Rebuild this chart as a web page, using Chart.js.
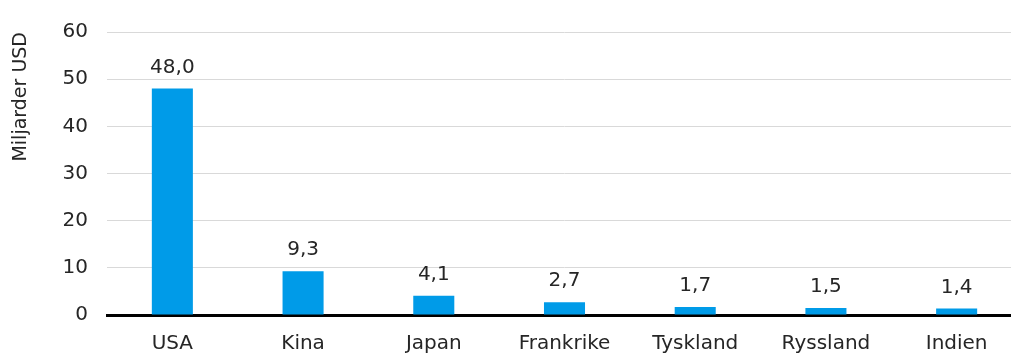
<!DOCTYPE html>
<html>
<head>
<meta charset="utf-8">
<script src="https://cdn.jsdelivr.net/npm/chart.js@4.4.0/dist/chart.umd.min.js"></script>
<style>
  html, body { margin: 0; padding: 0; background: #fff; overflow: hidden; }
  #wrap { width: 1022px; height: 354px; }
</style>
</head>
<body>
<div id="wrap"><canvas id="chart"></canvas></div>
<script>
// Länder och värden (miljarder USD)
const countries = ['USA', 'Kina', 'Japan', 'Frankrike', 'Tyskland', 'Ryssland', 'Indien'];
const values = [48.0, 9.3, 4.1, 2.7, 1.7, 1.5, 1.4];
const yTicks = [0, 10, 20, 30, 40, 50, 60];

const FONT = "'DejaVu Sans', sans-serif";
const TEXT = '#262626';

// Värdeetiketter ovanför staplarna, med decimalkomma
const barLabels = {
  id: 'barLabels',
  afterDatasetsDraw(chart) {
    const { ctx } = chart;
    const meta = chart.getDatasetMeta(0);
    ctx.save();
    ctx.font = '20px ' + FONT;
    ctx.fillStyle = TEXT;
    ctx.textAlign = 'center';
    ctx.textBaseline = 'bottom';
    meta.data.forEach((bar, i) => {
      const txt = values[i].toFixed(1).replace('.', ',');
      ctx.fillText(txt, bar.x, bar.y - 11);
    });
    ctx.restore();
  }
};

new Chart(document.getElementById('chart'), {
  type: 'bar',
  data: {
    labels: countries,
    datasets: [{
      data: values,
      backgroundColor: '#009be8',
      barPercentage: 0.314,
      categoryPercentage: 1
    }]
  },
  options: {
    animation: false,
    responsive: true,
    maintainAspectRatio: false,
    layout: { padding: { top: 32, right: 0, left: 0, bottom: 0 } },
    plugins: {
      legend: { display: false },
      tooltip: { enabled: false }
    },
    scales: {
      x: {
        grid: { display: false, drawTicks: false },
        border: { color: '#000', width: 3 },
        ticks: { color: TEXT, font: { family: FONT, size: 20 }, padding: 17 },
        afterFit(scale) { scale.height = 39; }
      },
      y: {
        min: 0,
        max: 60,
        afterBuildTicks(scale) { scale.ticks = yTicks.map(v => ({ value: v })); },
        grid: { color: '#d9d9d9', lineWidth: 1, drawTicks: false },
        border: { display: false },
        ticks: { color: TEXT, font: { family: FONT, size: 20 }, padding: 19 },
        title: {
          display: true,
          text: 'Miljarder USD',
          color: TEXT,
          align: 'end',
          font: { family: FONT, size: 19 },
          padding: { top: 10, bottom: 0 }
        },
        afterFit(scale) { scale.width = 107; }
      }
    }
  },
  plugins: [barLabels]
});
</script>
</body>
</html>
